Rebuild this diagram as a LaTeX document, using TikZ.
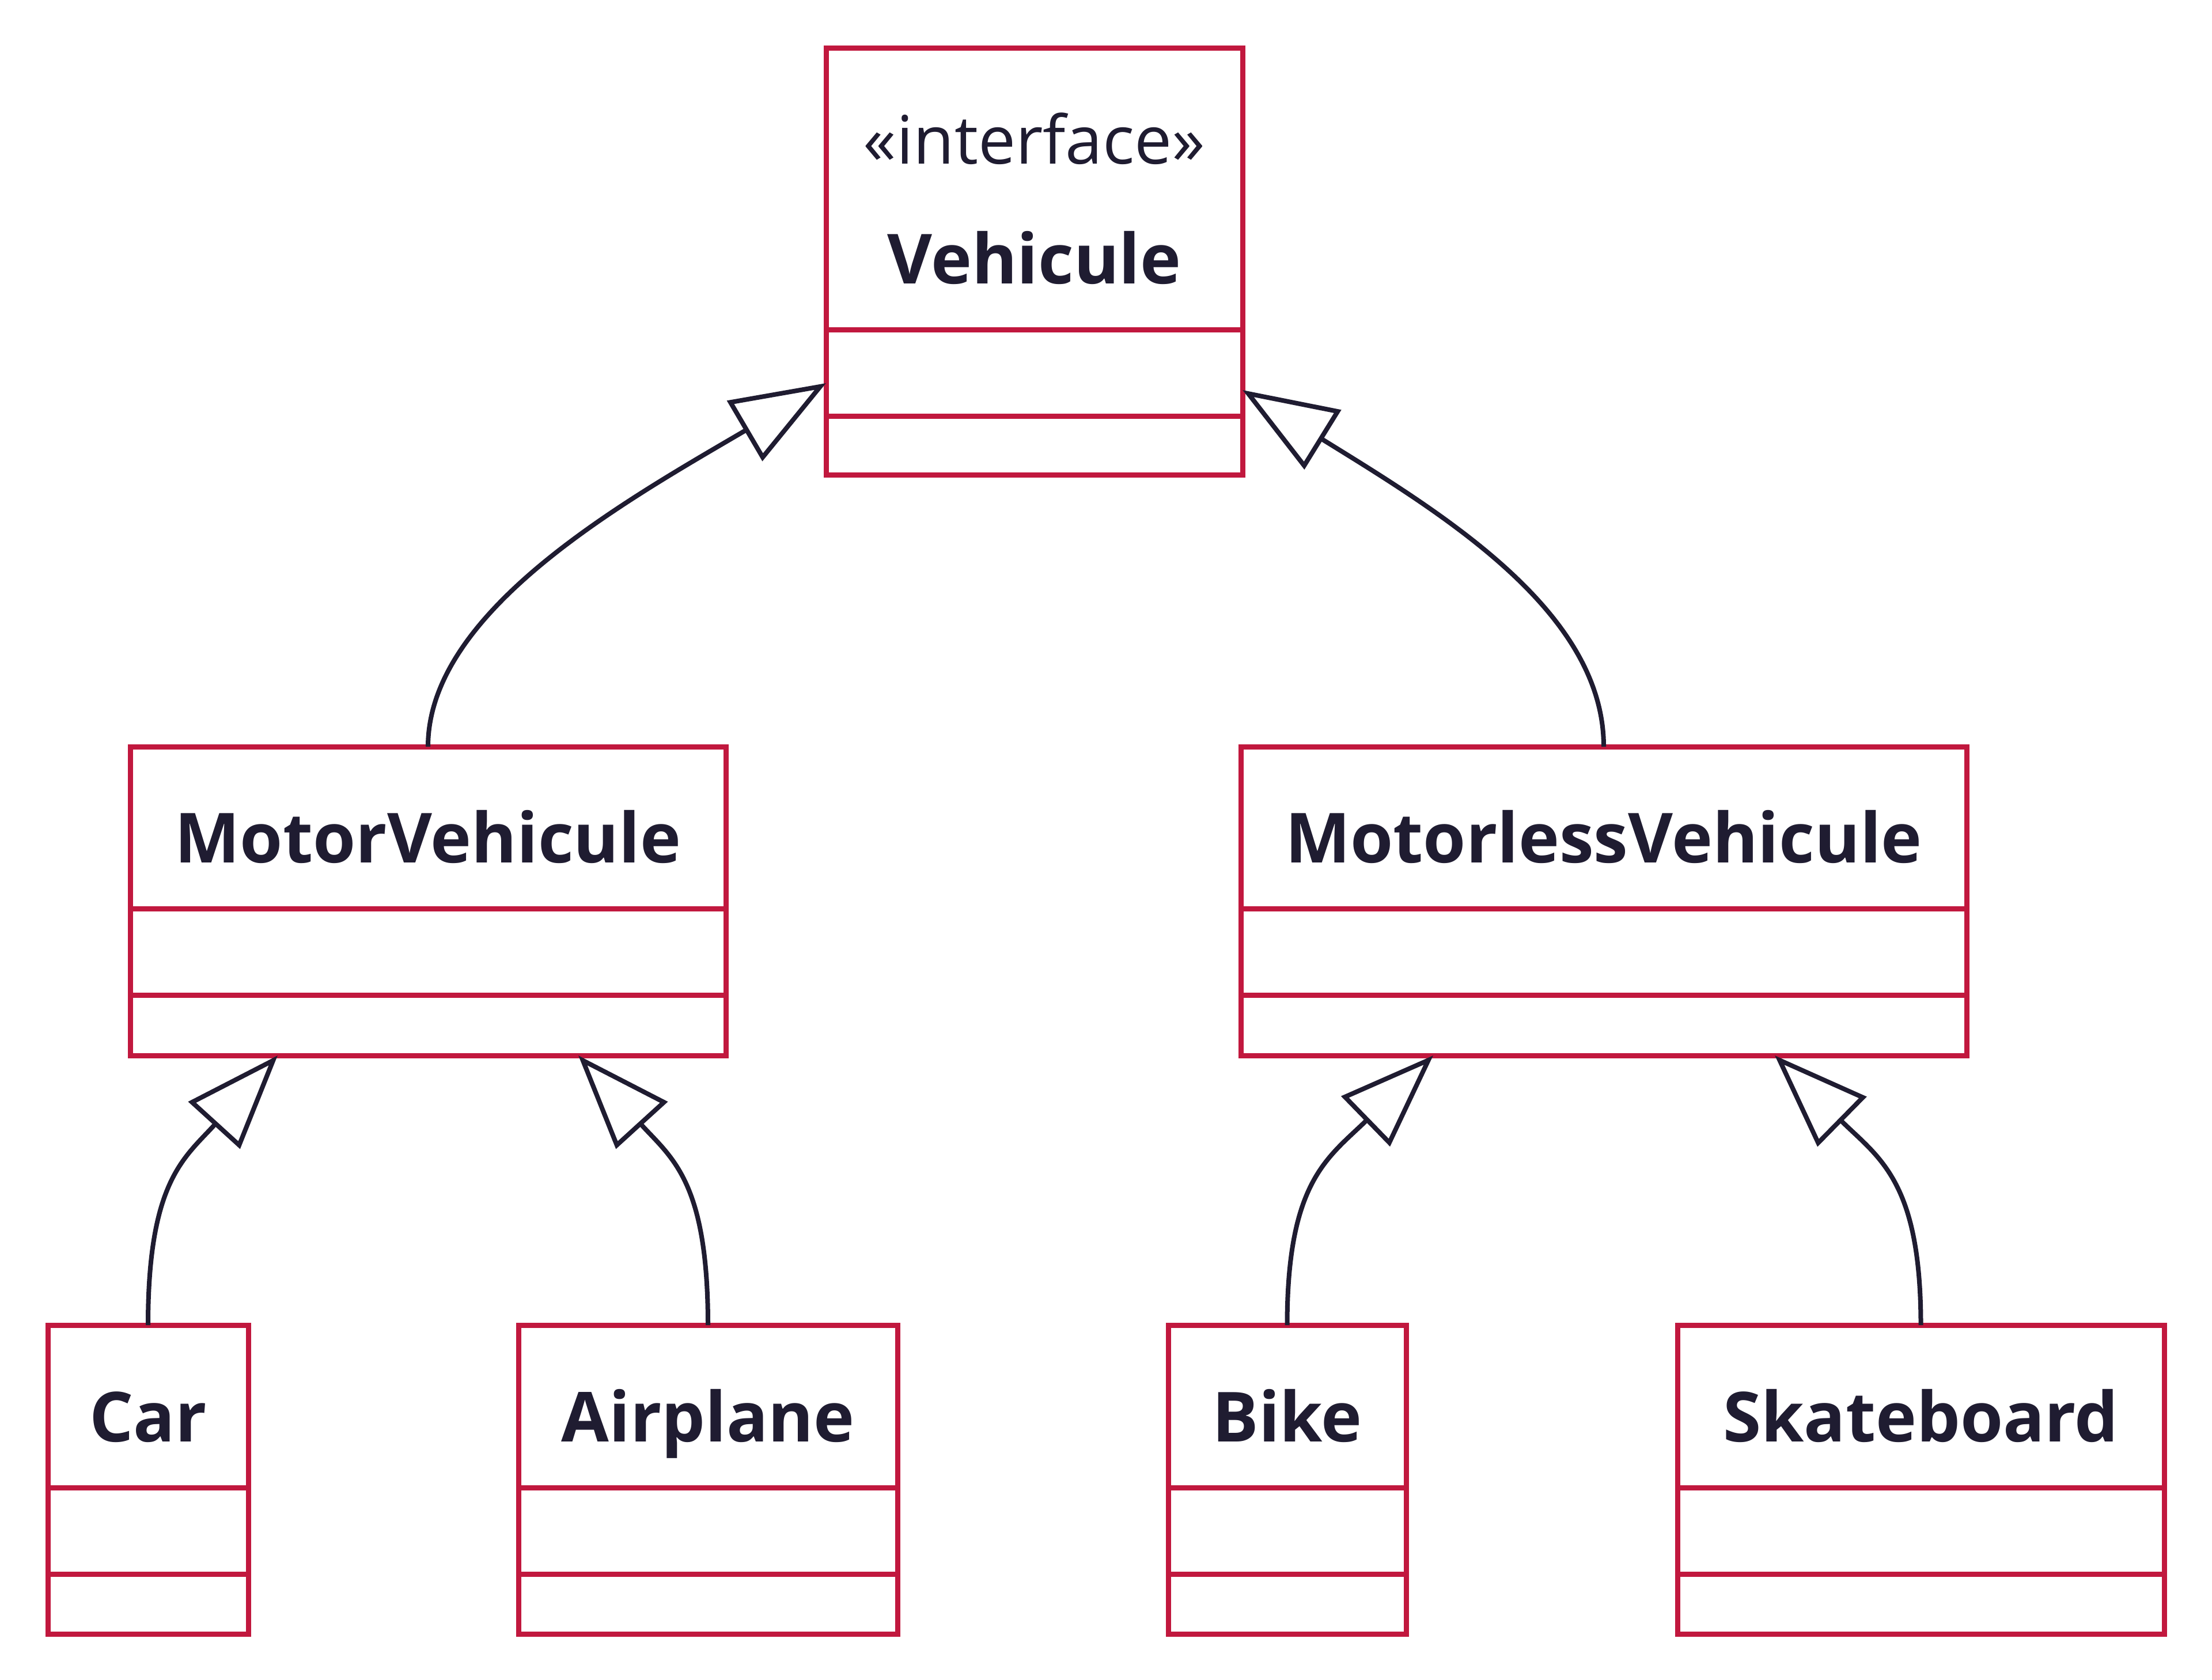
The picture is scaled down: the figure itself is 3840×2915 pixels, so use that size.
\documentclass[tikz,border=0pt]{standalone}
\usepackage{fontspec}
\setmainfont{Open Sans}
\usetikzlibrary{arrows.meta}
\definecolor{boxred}{RGB}{193,24,62}
\definecolor{ink}{RGB}{31,28,49}
\begin{document}
\begin{tikzpicture}[x=0.25pt,y=-0.25pt,
  cbox/.style={draw=boxred, line width=2.25pt, rectangle, inner sep=0pt, outer sep=0pt, fill=white},
  cline/.style={draw=boxred, line width=2.25pt},
  cname/.style={anchor=base, inner sep=0pt, text=ink, font=\fontsize{30}{36}\selectfont\bfseries},
  cstereo/.style={anchor=base, inner sep=0pt, text=ink, font=\fontsize{29}{35}\selectfont},
  inherit/.style={draw=ink, line width=2pt, -{Triangle[open, length=41pt, width=30pt]}}]
\fill[white] (0,0) rectangle (3840,2915);
\useasboundingbox (0,0) rectangle (3840,2915);

% Vehicule
\node[cbox, minimum width=180.75pt, minimum height=185.25pt] (veh) at (1795.5,453.5) {};
\draw[cline] (1434,572) -- (2157,572);
\draw[cline] (1434,722) -- (2157,722);
\node[cstereo] (vehst) at (1795.5,284) {«interface»};
\node[cname] (vehlbl) at (1795.5,492) {Vehicule};

% MotorVehicule
\node[cbox, minimum width=258.5pt, minimum height=134pt] (mv) at (743,1564) {};
\draw[cline] (226,1577) -- (1260,1577);
\draw[cline] (226,1727) -- (1260,1727);
\node[cname] (mvlbl) at (743,1497) {MotorVehicule};

% MotorlessVehicule
\node[cbox, minimum width=315pt, minimum height=134pt] (mlv) at (2784,1564) {};
\draw[cline] (2154,1577) -- (3414,1577);
\draw[cline] (2154,1727) -- (3414,1727);
\node[cname] (mlvlbl) at (2784,1497) {MotorlessVehicule};

% Car
\node[cbox, minimum width=87pt, minimum height=134pt] (car) at (257,2568) {};
\draw[cline] (83,2582) -- (431,2582);
\draw[cline] (83,2732) -- (431,2732);
\node[cname] (carlbl) at (257,2502) {Car};

% Airplane
\node[cbox, minimum width=164.5pt, minimum height=134pt] (air) at (1229,2568) {};
\draw[cline] (900,2582) -- (1558,2582);
\draw[cline] (900,2732) -- (1558,2732);
\node[cname] (airlbl) at (1229,2502) {Airplane};

% Bike
\node[cbox, minimum width=103.25pt, minimum height=134pt] (bike) at (2234.5,2568) {};
\draw[cline] (2028,2582) -- (2441,2582);
\draw[cline] (2028,2732) -- (2441,2732);
\node[cname] (bikelbl) at (2234.5,2502) {Bike};

% Skateboard
\node[cbox, minimum width=211.25pt, minimum height=134pt] (skate) at (3334.5,2568) {};
\draw[cline] (2912,2582) -- (3757,2582);
\draw[cline] (2912,2732) -- (3757,2732);
\node[cname] (skatelbl) at (3334.5,2502) {Skateboard};

% arrow tip points
\coordinate (tVL) at (1434,665);
\coordinate (tVR) at (2157,677);
\coordinate (tCar) at (482,1832);
\coordinate (tAir) at (1004,1832);
\coordinate (tBike) at (2488,1832);
\coordinate (tSk) at (3081,1832);

% connectors
\draw[inherit] (mv.north) .. controls (743,1060) and (1088,868) .. (tVL);
\draw[inherit] (mlv.north) .. controls (2784,1060) and (2500,889) .. (tVR);
\draw[inherit] (car.north) .. controls (257,2050) and (320,2010) .. (tCar);
\draw[inherit] (air.north) .. controls (1229,2050) and (1166,2010) .. (tAir);
\draw[inherit] (bike.north) .. controls (2234.5,2050) and (2305,2010) .. (tBike);
\draw[inherit] (skate.north) .. controls (3334.5,2050) and (3262,2010) .. (tSk);
\end{tikzpicture}
\end{document}
